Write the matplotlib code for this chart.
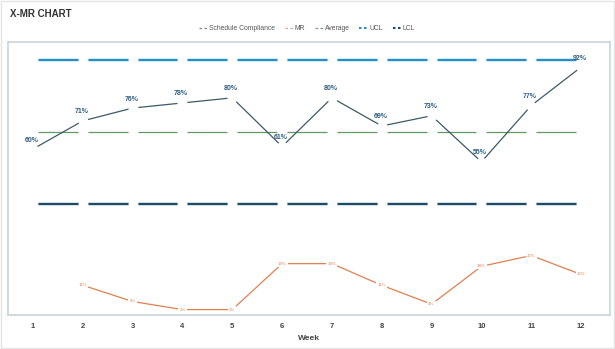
import matplotlib
matplotlib.use("Agg")
import matplotlib.pyplot as plt
from matplotlib.lines import Line2D
from matplotlib.patches import Rectangle
import numpy as np

plt.rcParams['font.family'] = ['Liberation Sans Narrow', 'Liberation Sans', 'DejaVu Sans']
plt.rcParams['lines.scale_dashes'] = False

# data
weeks = list(range(1, 13))
compliance = [60, 71, 76, 78, 80, 61, 80, 69, 73, 55, 77, 92]
mr = [np.nan, 11, 5, 2, 2, 19, 19, 11, 4, 18, 22, 15]
average = 66.6
ucl = 94.8
lcl = 38.5

c_x = '#3d5a68'
c_lab = '#2e5e80'
c_mr = '#e2804f'
c_avg = '#659866'
c_ucl = '#2390c8'
c_lcl = '#1c4d67'

fig = plt.figure(figsize=(6.15, 3.49), dpi=100)
ax = fig.add_axes([8 / 615, 34 / 349, 602 / 615, 273 / 349])
ax2 = ax.twinx()

gap = dict(marker='o', ms=6.2, mfc='white', mec='white')

# control lines, each broken at the week points like the original
ax.plot(weeks, [ucl] * len(weeks), color=c_ucl, lw=1.7, **gap)
ax.plot(weeks, [lcl] * len(weeks), color=c_lcl, lw=1.7, **gap)
ax.plot(weeks, [average] * len(weeks), color=c_avg, lw=0.9, **gap)
ax.plot(weeks, compliance, color=c_x, lw=0.9, **gap)

for w, v in zip(weeks, compliance):
    ax.annotate(f"{v}%", (w, v), xytext=(-1, 6.5), textcoords='offset points',
                ha='center', va='center', fontsize=5, fontweight='bold', color=c_lab)

# moving range on the secondary scale
ax2.plot(weeks, mr, color=c_mr, lw=0.9)
for w, v in zip(weeks, mr):
    if np.isnan(v):
        continue
    ax2.text(w, v, f"{int(v)}%", ha='center', va='center', fontsize=3.2, color=c_mr,
             bbox=dict(boxstyle='square,pad=0.25', fc='white', ec='none'))

ax.set_xlim(0.5, 12.58)
ax.set_ylim(-4.8, 101.8)
ax2.set_ylim(0, 101)

ax.set_xticks(weeks)
ax.set_xticklabels([str(w) for w in weeks], fontsize=5.5, fontweight='bold', color='#444444')
ax.tick_params(axis='x', length=0, pad=6)
ax.set_yticks([])
ax2.set_yticks([])
ax.set_xlabel("Week", fontsize=6, fontweight='bold', color='#444444', labelpad=3)

for s in ax.spines.values():
    s.set_color('#c8d5da')
    s.set_linewidth(1.2)
for s in ax2.spines.values():
    s.set_visible(False)

fig.text(10 / 615, 1 - 14 / 349, "X-MR CHART", fontsize=7, fontweight='bold',
         color='#333333', va='center', ha='left')

handles = [
    Line2D([], [], color='#7f8a90', lw=0.9, dashes=(1.8, 1.8)),
    Line2D([], [], color='#e2a07f', lw=0.9, dashes=(1.8, 1.8)),
    Line2D([], [], color='#7f9a80', lw=0.9, dashes=(1.8, 1.8)),
    Line2D([], [], color=c_ucl, lw=1.5, dashes=(1.8, 1.8)),
    Line2D([], [], color=c_lcl, lw=1.5, dashes=(1.8, 1.8)),
]
labels = ["Schedule Compliance", "MR", "Average", "UCL", "LCL"]
fig.legend(handles, labels, loc='center', bbox_to_anchor=(307 / 615, 1 - 29 / 349),
           ncol=5, fontsize=4.9, frameon=False, handlelength=1.3, handletextpad=0.2,
           columnspacing=1.4, labelcolor='#555555')

fig.patches.append(Rectangle((0.002, 0.003), 0.996, 0.994, transform=fig.transFigure,
                             fill=False, ec='#e4e4e4', lw=1))

fig.savefig("out.png", dpi=100)
